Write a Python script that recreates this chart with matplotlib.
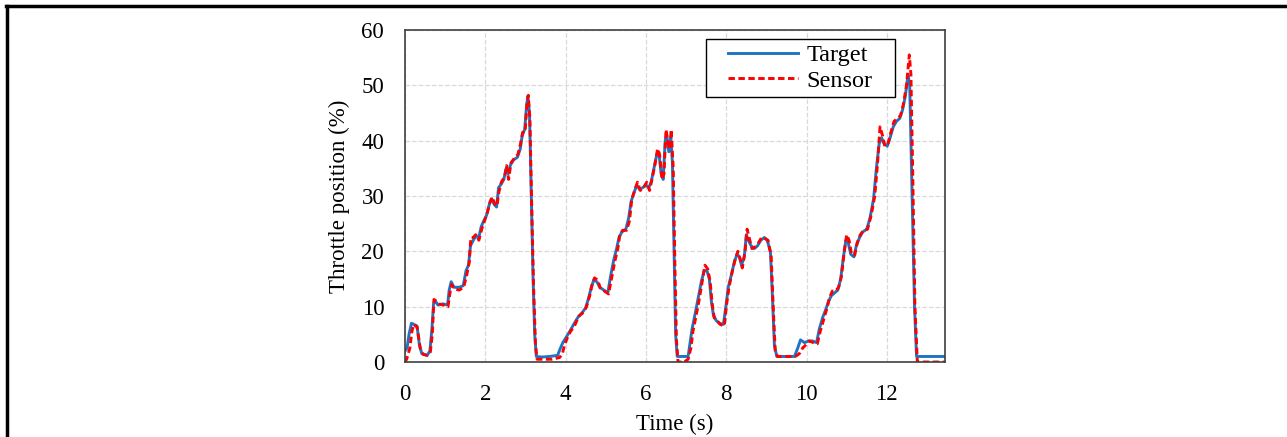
import matplotlib
matplotlib.use('Agg')
import matplotlib.pyplot as plt
from matplotlib.lines import Line2D
from matplotlib.patches import Rectangle

plt.rcParams['font.family'] = ['Liberation Serif', 'DejaVu Serif']

# Target throttle (time in s, position in %)
target_t = [0.00, 0.05, 0.10, 0.16, 0.22, 0.30, 0.36, 0.42, 0.50, 0.55, 0.62, 0.67, 0.71, 0.76, 0.82,
            0.95, 1.06, 1.10, 1.15, 1.22, 1.35, 1.45, 1.52, 1.58, 1.63, 1.70, 1.77, 1.83, 1.90, 1.96,
            2.03, 2.10, 2.16, 2.22, 2.28, 2.33, 2.40, 2.46, 2.52, 2.57, 2.62, 2.70, 2.80, 2.87, 2.92,
            2.98, 3.03, 3.06, 3.10, 3.14, 3.19, 3.23, 3.27, 3.40, 3.60, 3.80, 3.87, 3.93, 4.00, 4.10,
            4.20, 4.30, 4.42, 4.50, 4.57, 4.64, 4.70, 4.78, 4.85, 4.95, 5.05, 5.12, 5.20, 5.27, 5.33,
            5.40, 5.50, 5.57, 5.63, 5.70, 5.77, 5.84, 5.92, 6.00, 6.07, 6.13, 6.20, 6.27, 6.32, 6.38,
            6.43, 6.48, 6.52, 6.57, 6.62, 6.66, 6.70, 6.74, 6.78, 7.05, 7.10, 7.15, 7.22, 7.30, 7.38,
            7.45, 7.52, 7.58, 7.63, 7.68, 7.75, 7.83, 7.93, 8.00, 8.05, 8.12, 8.20, 8.27, 8.33, 8.38,
            8.45, 8.50, 8.55, 8.62, 8.70, 8.78, 8.86, 8.95, 9.02, 9.10, 9.15, 9.20, 9.26, 9.70, 9.78,
            9.85, 9.95, 10.05, 10.15, 10.25, 10.32, 10.40, 10.48, 10.55, 10.62, 10.70, 10.78, 10.85,
            10.92, 10.98, 11.04, 11.10, 11.18, 11.24, 11.32, 11.40, 11.50, 11.58, 11.67, 11.74, 11.81,
            11.87, 11.93, 12.01, 12.08, 12.16, 12.24, 12.32, 12.39, 12.46, 12.53, 12.57, 12.63, 12.69,
            12.74, 13.45]
target_v = [2.0, 2.5, 5.0, 7.0, 6.8, 6.5, 3.0, 1.5, 1.3, 1.2, 2.0, 6.0, 10.5, 11.0, 10.3,
            10.5, 10.3, 13.0, 14.5, 13.5, 13.5, 13.8, 16.5, 17.5, 21.0, 22.0, 22.8, 22.3, 24.5, 25.5,
            26.5, 28.5, 29.5, 28.5, 28.0, 31.5, 32.2, 33.0, 35.0, 34.0, 35.5, 36.5, 37.0, 38.5, 41.0,
            42.0, 46.5, 48.0, 45.0, 32.0, 15.0, 5.0, 1.0, 0.9, 1.0, 1.2, 2.5, 3.5, 4.3, 5.5,
            6.8, 8.0, 9.0, 9.8, 11.5, 13.5, 14.8, 14.5, 13.5, 13.0, 12.5, 15.5, 18.5, 20.5, 22.5,
            23.5, 24.0, 26.0, 29.0, 30.5, 32.0, 31.2, 31.5, 32.0, 31.5, 32.5, 35.0, 37.5, 38.0, 34.0,
            33.0, 40.0, 41.0, 38.0, 40.5, 36.0, 20.0, 5.0, 1.0, 1.0, 3.5, 6.0, 8.5, 11.5, 14.5,
            16.5, 16.5, 15.0, 11.0, 8.5, 7.5, 7.0, 6.8, 10.5, 13.5, 15.5, 18.0, 19.5, 19.0, 17.5,
            19.0, 23.0, 22.0, 21.0, 20.5, 21.0, 22.0, 22.5, 22.0, 20.0, 12.0, 3.0, 1.0, 1.0, 2.5,
            4.0, 3.5, 3.8, 3.8, 3.5, 6.0, 8.0, 9.5, 11.0, 12.0, 12.5, 13.0, 15.0,
            19.0, 22.0, 21.5, 19.5, 19.0, 21.0, 22.5, 23.5, 24.0, 26.0, 29.5, 35.0, 39.5,
            40.5, 39.5, 39.0, 40.5, 42.5, 43.5, 44.0, 45.5, 48.0, 52.0, 50.0, 30.0, 10.0,
            1.0, 1.0]

# Measured throttle position
sensor_t = [0.00, 0.04, 0.08, 0.12, 0.17, 0.22, 0.30, 0.38, 0.45, 0.55, 0.63, 0.68, 0.72, 0.78, 0.84,
            0.95, 1.07, 1.12, 1.16, 1.23, 1.35, 1.46, 1.53, 1.60, 1.64, 1.70, 1.76, 1.84, 1.91, 1.98,
            2.05, 2.12, 2.17, 2.24, 2.29, 2.34, 2.40, 2.48, 2.53, 2.58, 2.64, 2.72, 2.81, 2.88, 2.93,
            2.99, 3.04, 3.07, 3.11, 3.15, 3.20, 3.25, 3.29, 3.45, 3.65, 3.85, 3.92, 3.97, 4.05, 4.12,
            4.22, 4.33, 4.45, 4.52, 4.60, 4.66, 4.72, 4.80, 4.87, 4.97, 5.07, 5.14, 5.22, 5.30, 5.35,
            5.42, 5.52, 5.59, 5.65, 5.72, 5.79, 5.86, 5.94, 6.02, 6.09, 6.15, 6.22, 6.29, 6.34, 6.40,
            6.45, 6.50, 6.54, 6.59, 6.63, 6.68, 6.72, 6.76, 6.80, 6.95, 7.05, 7.12, 7.17, 7.24, 7.32,
            7.40, 7.47, 7.54, 7.60, 7.65, 7.70, 7.77, 7.85, 7.95, 8.02, 8.07, 8.14, 8.22, 8.29, 8.35,
            8.40, 8.47, 8.52, 8.57, 8.64, 8.72, 8.80, 8.88, 8.97, 9.04, 9.12, 9.17, 9.22, 9.28, 9.50,
            9.72, 9.82, 9.90, 9.97, 10.07, 10.17, 10.27, 10.34, 10.42, 10.50, 10.57, 10.64, 10.72,
            10.80, 10.87, 10.94, 11.00, 11.06, 11.12, 11.20, 11.26, 11.34, 11.42, 11.52, 11.61, 11.70,
            11.77, 11.83, 11.89, 11.95, 12.03, 12.10, 12.18, 12.26, 12.34, 12.41, 12.49, 12.56, 12.60,
            12.65, 12.70, 12.76, 13.45]
sensor_v = [0.0, 0.5, 1.5, 2.5, 5.5, 6.8, 6.3, 2.5, 1.4, 1.2, 1.8, 5.0, 11.3, 11.0, 10.5,
            10.3, 10.0, 12.5, 14.0, 13.2, 13.0, 13.5, 15.5, 18.0, 22.5, 22.5, 23.0, 22.0, 24.0, 25.5,
            27.0, 29.0, 29.8, 28.5, 28.2, 30.8, 32.5, 33.5, 35.5, 33.0, 36.0, 36.8, 37.5, 39.5, 41.5,
            41.5, 47.0, 48.2, 44.0, 30.0, 14.0, 3.0, 0.5, 0.5, 0.5, 0.8, 1.5, 3.0, 4.5, 5.5,
            6.5, 8.3, 9.0, 10.0, 12.0, 14.0, 15.2, 14.8, 13.2, 12.8, 12.3, 15.0, 18.0, 20.5, 23.0,
            23.8, 23.8, 25.5, 29.5, 31.0, 32.5, 31.0, 31.5, 32.5, 31.0, 33.0, 35.5, 38.5, 37.5, 33.0,
            34.0, 42.0, 40.0, 38.5, 42.0, 35.0, 18.0, 4.0, 0.0, 0.0, 0.5, 2.5, 5.5, 8.0, 11.0,
            14.5, 17.5, 16.8, 14.5, 10.5, 8.0, 7.5, 6.8, 6.5, 11.0, 13.5, 16.0, 18.5, 20.0, 18.5,
            17.0, 20.0, 24.0, 22.5, 20.5, 20.8, 21.5, 22.5, 22.3, 22.0, 19.0, 10.0, 2.0, 1.0, 1.0,
            1.0, 1.5, 2.5, 3.0, 3.8, 3.5, 3.3, 5.5, 7.5, 9.5, 11.5, 12.8, 12.8,
            13.5, 15.5, 20.0, 23.0, 22.0, 19.5, 19.3, 21.5, 23.0, 23.8, 24.0, 26.5, 30.0,
            36.0, 42.5, 41.0, 39.0, 39.5, 41.5, 43.5, 44.0, 44.5, 46.5, 50.0, 55.5, 52.0,
            32.0, 10.0, 0.0, 0.0]

fig = plt.figure(figsize=(12.87, 4.37), dpi=100)
ax = fig.add_axes([0.3147, 0.1716, 0.4196, 0.7598])

ax.plot(target_t, target_v, color='#1f74c4', lw=2.1, label='Target')
ax.plot(sensor_t, sensor_v, color='#ff0000', lw=2.1, ls=(0, (2.2, 1.2)), label='Sensor')

ax.set_xlim(0, 13.45)
ax.set_ylim(0, 60)
ax.set_xticks(range(0, 13, 2))
ax.set_yticks(range(0, 61, 10))
ax.tick_params(length=0, labelsize=16.5)
ax.tick_params(axis='x', pad=16)
ax.tick_params(axis='y', pad=15)
ax.grid(True, color='#d9d9d9', ls='--', lw=0.9)
ax.set_axisbelow(True)
for s in ax.spines.values():
    s.set_color('#404040')
    s.set_linewidth(1.2)

ax.set_xlabel('Time (s)', fontsize=16.5, labelpad=6)
ax.set_ylabel('Throttle position (%)', fontsize=16.5, labelpad=8)

# legend box drawn as a separate rectangle, entries centred in it
ax.add_patch(Rectangle((0.557, 0.798), 0.350, 0.175, transform=ax.transAxes,
                       facecolor='white', edgecolor='black', lw=1.0, zorder=4.5))
leg = ax.legend(loc='center', bbox_to_anchor=(0.732, 0.8855), fontsize=17.5,
                handlelength=2.9, frameon=False, borderaxespad=0, borderpad=0,
                labelspacing=0.15, handletextpad=0.35)
leg.set_zorder(5)

# outer frame (top and left edges visible)
fig.add_artist(Line2D([0.005, 1.0], [0.986, 0.986], color='black', lw=2.5, transform=fig.transFigure))
fig.add_artist(Line2D([0.0055, 0.0055], [0.0, 0.986], color='black', lw=2.5, transform=fig.transFigure))

fig.savefig('out.png', dpi=100)
